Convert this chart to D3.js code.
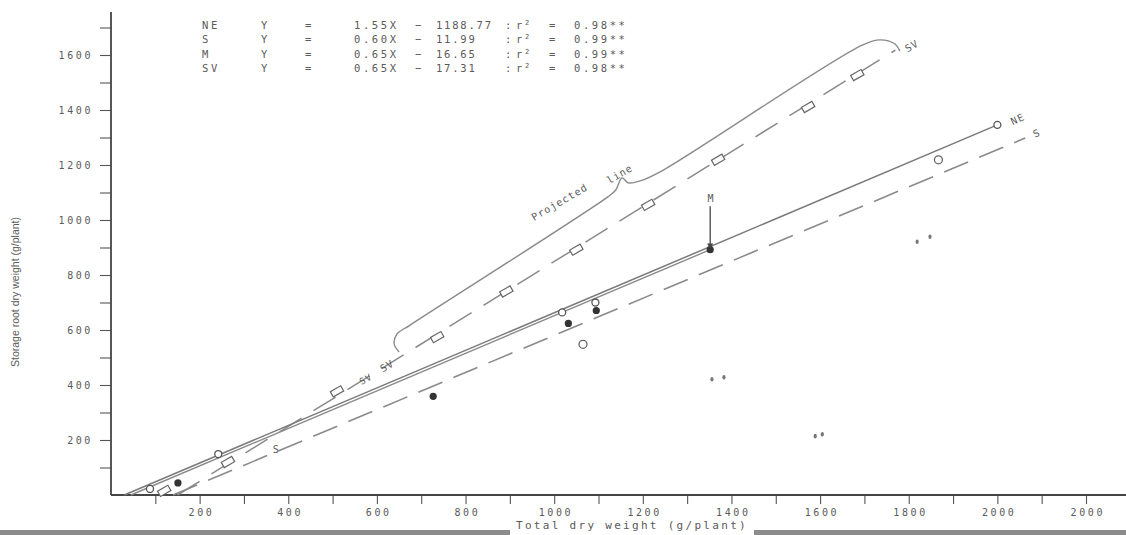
<!DOCTYPE html>
<html>
<head>
<meta charset="utf-8">
<title>Storage root dry weight vs total dry weight</title>
<script src="https://cdn.jsdelivr.net/npm/d3@7"></script>
<style>
  body { margin: 0; background: #fff; }
  svg { display: block; }
  text { fill: #5a5a5a; }
  .mono { font-family: "DejaVu Sans Mono", monospace; font-size: 10px; letter-spacing: 2.6px; }
  .legend text { font-size: 10.5px; letter-spacing: 2.6px; }
  .legend text.icpt { letter-spacing: 1.8px; }
</style>
</head>
<body>
<div id="chart"></div>
<script>
// axis ticks
const xTicks = [100, 200, 300, 400, 500, 600, 700, 800, 900, 1000, 1100,
                1200, 1300, 1400, 1500, 1600, 1700, 1800, 1900, 2000, 2100, 2200];
const xTickLabels = ["200", "400", "600", "800", "1000", "1200", "1400", "1600", "1800", "2000", "2000"];
const yTicks = [100, 200, 300, 400, 500, 600, 700, 800, 900, 1000, 1100,
                1200, 1300, 1400, 1500, 1600, 1700];

// fitted lines, [total dry weight, storage root dry weight] end points
const neLine = [[30, 0], [2000, 1346]];
const mLine = [[45, 0], [1352, 892]];
const sLine = [[140, 0], [2063, 1298]];
const svLine = [[150, 0], [1770, 1618]];

// observed points
const nePoints = [[88, 22], [242, 149], [1018, 664], [1093, 700], [2000, 1346]];
const mPoints = [[151, 44], [727, 359], [1032, 624], [1095, 671], [1352, 892]];
const sPoints = [[1065, 548], [1867, 1219]];
const svPoints = [[120, 15], [264, 120], [510, 377], [736, 574], [892, 740],
                  [1050, 892], [1212, 1055], [1370, 1219], [1573, 1411], [1684, 1527]];
const strayPoints = [[1356, 421], [1383, 428], [1819, 921], [1848, 939], [1589, 214], [1605, 221]];

// "Projected line" brace above the SV line
const brace = [[650, 520], [639, 549], [645, 585], [675, 618], [1121, 1084], [1139, 1109],
               [1153, 1153], [1167, 1135], [1194, 1142], [1239, 1175], [1695, 1636],
               [1735, 1655], [1769, 1640], [1780, 1615]];

// legend rows
const legendNames = ["NE", "S", "M", "SV"];
const legendSlopes = ["1.55X", "0.60X", "0.65X", "0.65X"];
const legendIntercepts = ["1188.77", "11.99", "16.65", "17.31"];
const legendR2 = ["0.98**", "0.99**", "0.99**", "0.98**"];

const width = 1126, height = 535;

const x = d3.scaleLinear().domain([0, 2200]).range([111, 1086]);
const y = d3.scaleLinear().domain([0, 1600]).range([495, 55]);

const svg = d3.select("#chart").append("svg")
    .attr("width", width)
    .attr("height", height);

// scanned page edge at the bottom
svg.append("rect")
    .attr("x", 0).attr("y", 530).attr("width", width).attr("height", 5)
    .attr("fill", "#8c8c8c");

// x axis
const xAxis = svg.append("g")
    .attr("transform", `translate(0,${y(0)})`)
    .call(d3.axisBottom(x).tickValues(xTicks).tickSize(9).tickPadding(5)
      .tickFormat(d => d % 200 === 0 ? xTickLabels[d / 200 - 1] : ""));
xAxis.select(".domain").remove();
xAxis.selectAll("line").attr("stroke", "#555").attr("stroke-width", 1.1);
xAxis.selectAll("text").attr("class", "mono").attr("fill", "#5a5a5a").attr("dx", "1.3px");

svg.append("line")
    .attr("x1", x(0)).attr("x2", width)
    .attr("y1", y(0)).attr("y2", y(0))
    .attr("stroke", "#444").attr("stroke-width", 1.8);

// y axis
const yAxis = svg.append("g")
    .attr("transform", `translate(${x(0)},0)`)
    .call(d3.axisLeft(y).tickValues(yTicks).tickSize(11).tickPadding(7)
      .tickFormat(d => d % 200 === 0 && d <= 1600 ? String(d) : ""));
yAxis.select(".domain").remove();
yAxis.selectAll("line").attr("stroke", "#555").attr("stroke-width", 1.1);
yAxis.selectAll("text").attr("class", "mono").attr("fill", "#5a5a5a");

svg.append("line")
    .attr("x1", x(0)).attr("x2", x(0))
    .attr("y1", y(0)).attr("y2", y(1756))
    .attr("stroke", "#444").attr("stroke-width", 1.8);

// axis titles
const titleBg = svg.append("rect").attr("fill", "#fff");
const xTitle = svg.append("text")
    .attr("class", "mono")
    .attr("x", 632).attr("y", 529)
    .attr("text-anchor", "middle")
    .style("font-size", "11px").style("letter-spacing", "2.3px")
    .text("Total dry weight (g/plant)");
const bb = xTitle.node().getBBox();
titleBg.attr("x", bb.x - 6).attr("y", 529).attr("width", bb.width + 12).attr("height", 6);

svg.append("text")
    .attr("transform", "translate(19,292) rotate(-90)")
    .attr("text-anchor", "middle")
    .style("font-family", "'Liberation Sans', sans-serif")
    .style("font-size", "10.5px")
    .text("Storage root dry weight (g/plant)");

// lines
const line = d3.line().x(d => x(d[0])).y(d => y(d[1]));

svg.append("path").datum(sLine)
    .attr("d", line).attr("fill", "none")
    .attr("stroke", "#8a8a8a").attr("stroke-width", 1.6)
    .attr("stroke-dasharray", "26,12");

svg.append("path").datum(svLine)
    .attr("d", line).attr("fill", "none")
    .attr("stroke", "#8a8a8a").attr("stroke-width", 1.5)
    .attr("stroke-dasharray", "26,14");

svg.append("path").datum(mLine)
    .attr("d", line).attr("fill", "none")
    .attr("stroke", "#8a8a8a").attr("stroke-width", 1.4);

svg.append("path").datum(neLine)
    .attr("d", line).attr("fill", "none")
    .attr("stroke", "#7a7a7a").attr("stroke-width", 1.5);

// brace
svg.append("path").datum(brace)
    .attr("d", d3.line().x(d => x(d[0])).y(d => y(d[1])).curve(d3.curveCatmullRom))
    .attr("fill", "none")
    .attr("stroke", "#8a8a8a").attr("stroke-width", 1.4);

// markers
svg.selectAll(".sv").data(svPoints).enter().append("rect")
    .attr("class", "sv")
    .attr("x", d => x(d[0]) - 6).attr("y", d => y(d[1]) - 3)
    .attr("width", 12).attr("height", 6)
    .attr("transform", d => `rotate(-30,${x(d[0])},${y(d[1])})`)
    .attr("fill", "#fff").attr("stroke", "#666").attr("stroke-width", 1.2);

svg.selectAll(".ne").data(nePoints).enter().append("circle")
    .attr("class", "ne")
    .attr("cx", d => x(d[0])).attr("cy", d => y(d[1])).attr("r", 3.5)
    .attr("fill", "#fff").attr("stroke", "#555").attr("stroke-width", 1.3);

svg.selectAll(".s").data(sPoints).enter().append("circle")
    .attr("class", "s")
    .attr("cx", d => x(d[0])).attr("cy", d => y(d[1])).attr("r", 4)
    .attr("fill", "#fff").attr("stroke", "#666").attr("stroke-width", 1.3);

svg.selectAll(".m").data(mPoints).enter().append("circle")
    .attr("class", "m")
    .attr("cx", d => x(d[0])).attr("cy", d => y(d[1])).attr("r", 3.6)
    .attr("fill", "#333");

svg.selectAll(".stray").data(strayPoints).enter().append("ellipse")
    .attr("class", "stray")
    .attr("cx", d => x(d[0])).attr("cy", d => y(d[1]))
    .attr("rx", 1.6).attr("ry", 2.3)
    .attr("fill", "#777");

// M arrow
const mTop = 1050;
svg.append("line")
    .attr("x1", x(1352)).attr("x2", x(1352))
    .attr("y1", y(mTop)).attr("y2", y(905))
    .attr("stroke", "#444").attr("stroke-width", 1.3);
svg.append("path")
    .attr("d", `M${x(1352) - 3},${y(915)} L${x(1352) + 3},${y(915)} L${x(1352)},${y(895)} Z`)
    .attr("fill", "#444");

// labels on the chart
function label(txt, d, angle, size) {
  svg.append("text")
      .attr("class", "mono")
      .attr("transform", `translate(${x(d[0])},${y(d[1])}) rotate(${angle})`)
      .attr("text-anchor", "middle").attr("dy", "0.35em")
      .style("font-size", (size || 10) + "px").style("letter-spacing", "1px")
      .text(txt);
}
label("M", [1354, 1078], 0, 10);
label("NE", [2046, 1367], -25, 10);
label("S", [2089, 1316], -25, 10);
label("SV", [1807, 1633], -30, 10);
label("SV", [623, 469], -30, 10);
label("SV", [575, 422], -30, 9);
label("S", [373, 164], 0, 10);
label("Projected", [1012, 1065], -30, 10);
label("line", [1148, 1167], -30, 10);

// legend
const rowY = [25, 39.5, 54, 68.5];
const legend = svg.append("g").attr("class", "mono legend");
legendNames.forEach((n, i) => {
  const g = legend.append("g").attr("transform", `translate(0,${rowY[i]})`);
  g.append("text").attr("x", 202).attr("dy", "0.35em").text(n);
  g.append("text").attr("x", 261).attr("dy", "0.35em").text("Y");
  g.append("text").attr("x", 305).attr("dy", "0.35em").text("=");
  g.append("text").attr("x", 354).attr("dy", "0.35em").text(legendSlopes[i]);
  g.append("text").attr("x", 415).attr("dy", "0.35em").text("\u2212");
  g.append("text").attr("class", "icpt").attr("x", 436).attr("dy", "0.35em").text(legendIntercepts[i]);
  g.append("text").attr("x", 505).attr("dy", "0.35em").text(":");
  g.append("text").attr("x", 516).attr("dy", "0.35em").html("r<tspan dy='-4' font-size='7px'>2</tspan>");
  g.append("text").attr("x", 549).attr("dy", "0.35em").text("=");
  g.append("text").attr("x", 574).attr("dy", "0.35em").text(legendR2[i]);
});
</script>
</body>
</html>
